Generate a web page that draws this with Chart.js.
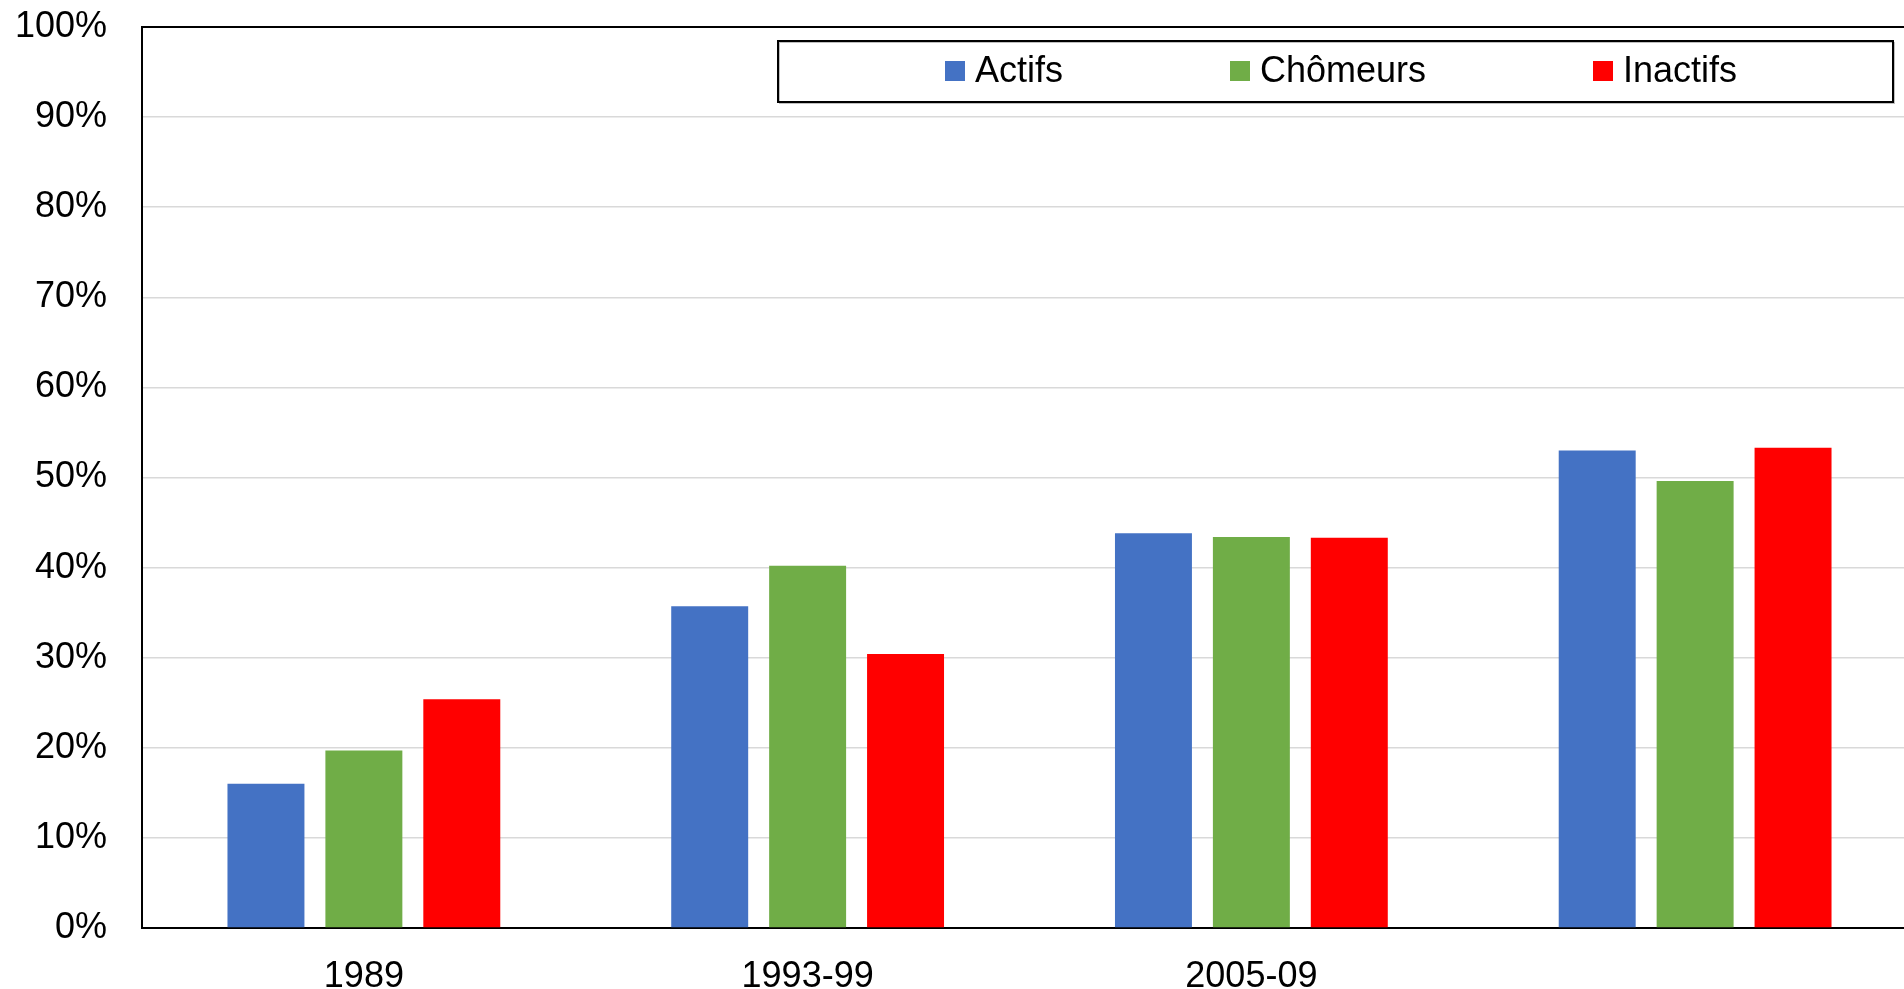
<!DOCTYPE html>
<html>
<head>
<meta charset="utf-8">
<script src="https://cdn.jsdelivr.net/npm/chart.js@4"></script>
<style>
    html, body { margin: 0; padding: 0; background: #fff; overflow: hidden; }
    #wrap { width: 1930px; height: 989px; }
</style>
</head>
<body>
<div id="wrap"><canvas id="chart" width="1930" height="989"></canvas></div>
<script>
// Chart data
const categories = ['1989', '1993-99', '2005-09', ''];
const actifs = [16.0, 35.7, 43.8, 53.0];
const chomeurs = [19.7, 40.2, 43.4, 49.6];
const inactifs = [25.4, 30.4, 43.3, 53.3];
const yTicks = [0, 10, 20, 30, 40, 50, 60, 70, 80, 90, 100];

const seriesNames = ['Actifs', 'Chômeurs', 'Inactifs'];
const seriesColors = ['#4472c4', '#70ad47', '#ff0000'];

const FONT = '"Liberation Sans", Arial, sans-serif';

// Frame around plot + legend box inside the plot
const framePlugin = {
    id: 'frame',
    afterDraw(chart) {
        const ctx = chart.ctx;
        const a = chart.chartArea;
        ctx.save();
        ctx.strokeStyle = '#000';
        ctx.lineWidth = 2;
        ctx.beginPath();
        ctx.moveTo(a.left, a.bottom);
        ctx.lineTo(a.left, a.top);
        ctx.lineTo(a.right, a.top);
        ctx.stroke();

        // legend box
        const box = { x: 778, y: 41, w: 1115, h: 61 };
        ctx.fillStyle = '#fff';
        ctx.fillRect(box.x, box.y, box.w, box.h);
        ctx.strokeStyle = '#bfbfbf';
        ctx.lineWidth = 1;
        ctx.strokeRect(box.x + 1.5, box.y + 1.5, box.w, box.h);
        ctx.strokeStyle = '#000';
        ctx.lineWidth = 2;
        ctx.strokeRect(box.x, box.y, box.w, box.h);

        const itemX = [945, 1230, 1593];
        const midY = 71;
        ctx.font = '36px ' + FONT;
        ctx.textBaseline = 'middle';
        ctx.textAlign = 'left';
        chart.data.datasets.forEach((ds, i) => {
            ctx.fillStyle = ds.backgroundColor;
            ctx.fillRect(itemX[i], midY - 10, 20, 20);
            ctx.fillStyle = '#000';
            ctx.fillText(ds.label, itemX[i] + 30, midY + 1);
        });
        ctx.restore();
    }
};

const datasets = [actifs, chomeurs, inactifs].map((values, i) => ({
    label: seriesNames[i],
    data: values,
    backgroundColor: seriesColors[i],
    borderWidth: 0,
    categoryPercentage: 0.662,
    barPercentage: 0.786
}));

new Chart(document.getElementById('chart'), {
    type: 'bar',
    data: {
        labels: categories,
        datasets: datasets
    },
    options: {
        responsive: false,
        animation: false,
        layout: {
            padding: { top: 27, right: 13, left: 0, bottom: 0 }
        },
        plugins: {
            legend: { display: false },
            tooltip: { enabled: false }
        },
        scales: {
            x: {
                grid: { display: false, drawTicks: false },
                border: { display: true, color: '#000', width: 2 },
                ticks: {
                    color: '#000',
                    font: { family: FONT, size: 36 },
                    padding: 27,
                    maxRotation: 0,
                    autoSkip: false
                },
                afterFit(scale) {
                    scale.height = 61;
                    scale.paddingLeft = 0;
                    scale.paddingRight = 0;
                }
            },
            y: {
                min: 0,
                max: 100,
                afterBuildTicks(scale) {
                    scale.ticks = yTicks.map(v => ({ value: v }));
                },
                grid: { color: '#d9d9d9', lineWidth: 1.5, drawTicks: false },
                border: { display: false },
                ticks: {
                    color: '#000',
                    font: { family: FONT, size: 36 },
                    padding: 35,
                    callback: v => v + '%'
                },
                afterFit(scale) {
                    scale.width = 142;
                    scale.paddingTop = 0;
                    scale.paddingBottom = 0;
                }
            }
        }
    },
    plugins: [framePlugin]
});
</script>
</body>
</html>
